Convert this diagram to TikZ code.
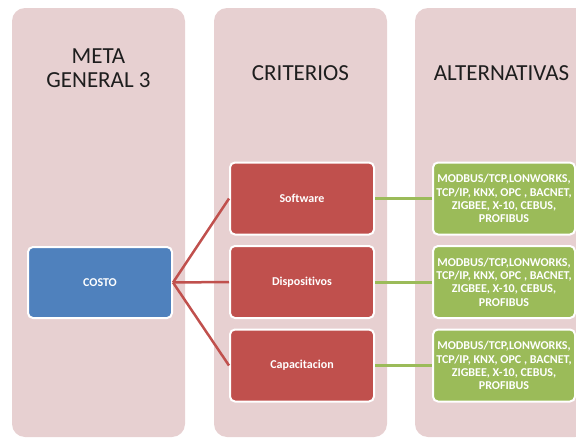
\documentclass[tikz,border=0pt]{standalone}
\usepackage{fontspec}
\setmainfont{Carlito}[Ligatures={NoCommon}]
\definecolor{pinkbg}{RGB}{231,208,209}
\definecolor{redbox}{HTML}{C0504D}
\definecolor{bluebox}{HTML}{4F81BD}
\definecolor{greenbox}{HTML}{9BBB59}
\definecolor{headtxt}{RGB}{30,30,30}
\tikzset{
  colbg/.style={fill=pinkbg, draw=none, rounded corners=13pt},
  head/.style={text=headtxt, align=center, font=\fontsize{23}{24}\selectfont, inner sep=0pt},
  boxbase/.style={draw=white, line width=2pt, rounded corners=5pt, text=white, font=\fontsize{12}{13.3}\selectfont\bfseries, align=center, inner sep=0pt},
  bluenode/.style={boxbase, fill=bluebox, minimum width=144pt, minimum height=71pt},
  rednode/.style={boxbase, fill=redbox, minimum width=144pt, minimum height=72pt},
  greennode/.style={boxbase, fill=greenbox, minimum width=142pt, minimum height=72pt},
  redlink/.style={draw=redbox, line width=2.5pt},
  greenlink/.style={draw=greenbox, line width=3pt},
}
\begin{document}
\begin{tikzpicture}[x=1pt,y=-1pt]
\useasboundingbox (0,0) rectangle (576,439);
\begin{scope}
\clip (0,0) rectangle (576,439);
\fill[colbg] (12,8) rectangle (185,437);
\fill[colbg] (214,8) rectangle (387,437);
\fill[colbg] (415,8) rectangle (588,437);
\end{scope}
\node[head] (h1) at (98.5,68.5) {META\\GENERAL 3};
\node[head] (h2) at (300.5,73) {CRITERIOS};
\node[head] (h3) at (501.5,73) {ALTERNATIVAS};

\node[bluenode] (costo) at (100,282.5) {COSTO};
\node[rednode] (c1) at (302,198.5) {Software};
\node[rednode] (c2) at (302,282) {Dispositivos};
\node[rednode] (c3) at (302,365.5) {Capacitacion};
\node[greennode] (a1) at (504,198.5) {MODBUS/TCP,LONWORKS,\\TCP/IP, KNX, OPC , BACNET,\\ZIGBEE, X-10, CEBUS,\\PROFIBUS};
\node[greennode] (a2) at (504,282) {MODBUS/TCP,LONWORKS,\\TCP/IP, KNX, OPC , BACNET,\\ZIGBEE, X-10, CEBUS,\\PROFIBUS};
\node[greennode] (a3) at (504,365.5) {MODBUS/TCP,LONWORKS,\\TCP/IP, KNX, OPC , BACNET,\\ZIGBEE, X-10, CEBUS,\\PROFIBUS};

\draw[redlink] (costo.east) -- (c1.west);
\draw[redlink] (costo.east) -- (c2.west);
\draw[redlink] (costo.east) -- (c3.west);
\draw[greenlink] (c1.east) -- (a1.west);
\draw[greenlink] (c2.east) -- (a2.west);
\draw[greenlink] (c3.east) -- (a3.west);
\end{tikzpicture}
\end{document}
